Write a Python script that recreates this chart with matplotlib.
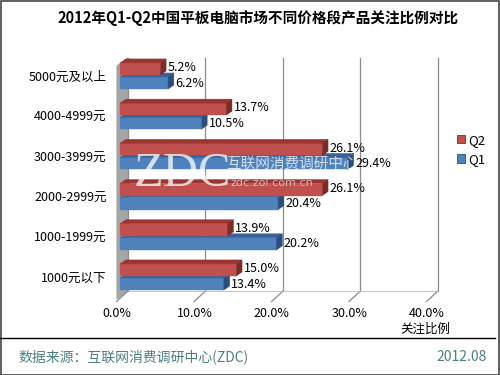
import matplotlib
matplotlib.use("Agg")
import matplotlib.pyplot as plt
from matplotlib.patches import Polygon, Patch, Rectangle
from matplotlib.lines import Line2D
import numpy as np

plt.rcParams['font.family'] = ['Noto Sans CJK SC', 'DejaVu Sans']

title = "2012年Q1-Q2中国平板电脑市场不同价格段产品关注比例对比"
categories = ["1000元以下", "1000-1999元", "2000-2999元", "3000-3999元", "4000-4999元", "5000元及以上"]
q2 = [15.0, 13.9, 26.1, 26.1, 13.7, 5.2]
q1 = [13.4, 20.2, 20.4, 29.4, 10.5, 6.2]
xticks = [0, 10, 20, 30, 40]
xticklabels = ["0.0%", "10.0%", "20.0%", "30.0%", "40.0%"]
series_names = ["Q2", "Q1"]
source = "数据来源：互联网消费调研中心(ZDC)"
date = "2012.08"
axis_label = "关注比例"

RED = "#C0504D"; RED_TOP = "#9A3532"; RED_SIDE = "#7E2A27"
BLUE = "#4F81BD"; BLUE_TOP = "#3A6298"; BLUE_SIDE = "#2C4E7A"

fig = plt.figure(figsize=(5, 3.75), dpi=100)
ax = fig.add_axes([108/500, 75/375, 337/500, 248/375])
ax.set_xlim(-1.548, 41.94)
ax.set_ylim(-0.572, 5.597)
for s in ax.spines.values():
    s.set_visible(False)

# 3D geometry (data units)
dxw, dyw = 1.03, 0.2     # wall depth
dxb, dyb = 0.75, 0.1     # bar depth
y0 = -0.55               # floor front
ytop = 5.45              # back wall top
xmax = xticks[-1]

# left wall
ax.add_patch(Polygon([(-0.4, y0), (dxw, y0 + dyw), (dxw, ytop), (-0.4, ytop - dyw)],
                     closed=True, facecolor="#A6A6A6", edgecolor="#999999", lw=0.5, zorder=1))
# back gridlines
for v in xticks:
    ax.plot([v + dxw, v + dxw], [y0 + dyw, ytop], color="#8C8C8C", lw=0.9, zorder=1)
    ax.plot([v - 0.45, v + dxw], [y0 - 0.06, y0 + dyw], color="#8C8C8C", lw=0.9, zorder=1, clip_on=False)
ax.plot([dxw, xmax + dxw], [y0 + dyw, y0 + dyw], color="#BBBBBB", lw=0.6, zorder=1)

h = 0.3
off = 0.175

def bar3d(y_center, v, front, top, side, z):
    bottom = y_center - h / 2
    topy = y_center + h / 2
    ax.barh(y_center, v, height=h, left=0, color=front, edgecolor=front, lw=0.3, zorder=z)
    ax.add_patch(Polygon([(0, topy), (v, topy), (v + dxb, topy + dyb), (dxb, topy + dyb)],
                         closed=True, facecolor=top, edgecolor=top, lw=0.3, zorder=z))
    ax.add_patch(Polygon([(v, bottom), (v + dxb, bottom + dyb), (v + dxb, topy + dyb), (v, topy)],
                         closed=True, facecolor=side, edgecolor=side, lw=0.3, zorder=z))

yc = np.arange(len(categories))
for i, c in enumerate(yc):
    bar3d(c - off, q1[i], BLUE, BLUE_TOP, BLUE_SIDE, 3 + 2 * i)
    bar3d(c + off, q2[i], RED, RED_TOP, RED_SIDE, 4 + 2 * i)

# watermark
ax.text(1.7, 2.55, "ZDC", family="Liberation Serif", fontsize=35, color="white", alpha=0.75,
        ha="left", va="center", zorder=20)
ax.text(13.7, 2.82, "互联网消费调研中心", fontsize=10.5, color="white", alpha=0.75,
        ha="left", va="center", zorder=20)
ax.text(14.2, 2.35, "zdc.zol.com.cn", family="DejaVu Sans", fontsize=8, color="white", alpha=0.6,
        ha="left", va="center", zorder=20)

# data labels
for i, c in enumerate(yc):
    ax.text(q2[i] + dxb + 0.2, c + off + 0.03, f"{q2[i]:.1f}%", fontsize=9, ha="left", va="center", zorder=30)
    ax.text(q1[i] + dxb + 0.2, c - off + 0.0, f"{q1[i]:.1f}%", fontsize=9, ha="left", va="center", zorder=30)

# ticks
ax.set_yticks(yc)
ax.set_yticklabels(categories, fontsize=9)
ax.tick_params(axis="y", length=0, pad=1)
ax.set_xticks([v - 0.4 for v in xticks])
ax.set_xticklabels(xticklabels, fontsize=9)
ax.tick_params(axis="x", length=0, pad=5)
ax.text(xmax - 0.6, -1.3, axis_label, fontsize=9, ha="center", va="center", clip_on=False)

# legend
handles = [Patch(facecolor=RED, edgecolor=RED_SIDE, lw=0.6, label=series_names[0]),
           Patch(facecolor=BLUE, edgecolor=BLUE_SIDE, lw=0.6, label=series_names[1])]
fig.legend(handles=handles, loc="center left", bbox_to_anchor=(452/500, 1 - 150/375),
           frameon=False, fontsize=9.5, handlelength=0.6, handleheight=0.6,
           handletextpad=0.25, labelspacing=0.5, borderaxespad=0)

# title
fig.text(258/500, 1 - 18/375, title, fontsize=10.5, fontweight="bold", ha="center", va="center")

# footer
fig.add_artist(Line2D([0.0, 0.99], [1 - 338/375, 1 - 338/375], color="black", lw=1.0))
fig.text(18/500, 1 - 357/375, source, fontsize=10, color="#4E7F80", ha="left", va="center")
fig.text(487/500, 1 - 357/375, date, fontsize=10, color="#4E7F80", ha="right", va="center")

# border
fig.add_artist(Rectangle((0.001, 0.001), 0.997, 0.997, transform=fig.transFigure,
                         fill=False, edgecolor="#444444", lw=1.2))

fig.savefig("out.png", dpi=100)
